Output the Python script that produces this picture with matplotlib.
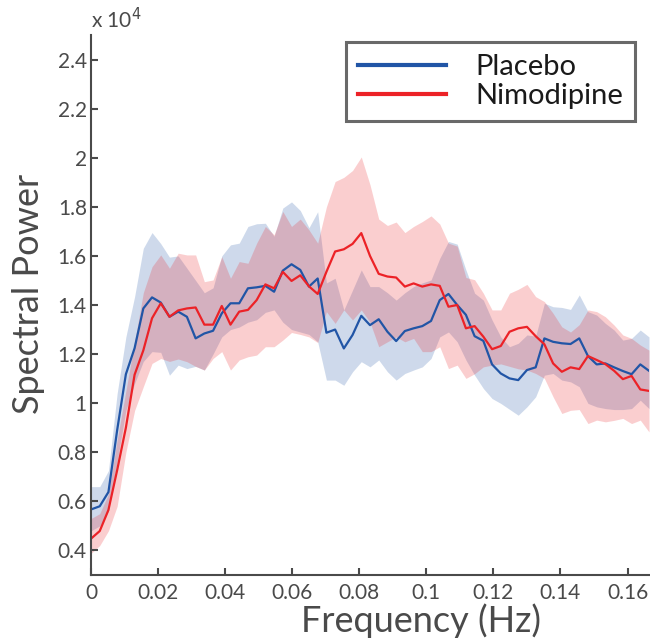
import numpy as np
import matplotlib
matplotlib.use("Agg")
import matplotlib.pyplot as plt
from matplotlib.ticker import FuncFormatter

plt.rcParams['font.family'] = ['Lato', 'DejaVu Sans']

# frequency bins (Hz)
freq = np.round(np.arange(65) * 0.0026, 5)

# values in units of 1e4
placebo_mean = [0.567, 0.580, 0.638, 0.890, 1.118, 1.224, 1.386, 1.431, 1.410, 1.352,
                1.373, 1.352, 1.264, 1.284, 1.295, 1.366, 1.407, 1.407, 1.468, 1.472,
                1.478, 1.454, 1.540, 1.566, 1.543, 1.475, 1.508, 1.287, 1.300, 1.223,
                1.278, 1.356, 1.318, 1.342, 1.291, 1.253, 1.294, 1.305, 1.314, 1.335,
                1.420, 1.445, 1.400, 1.360, 1.273, 1.254, 1.158, 1.121, 1.101, 1.094,
                1.135, 1.146, 1.264, 1.250, 1.244, 1.241, 1.264, 1.192, 1.158, 1.162,
                1.146, 1.131, 1.118, 1.158, 1.132]
placebo_upper = [0.660, 0.660, 0.725, 1.040, 1.270, 1.434, 1.631, 1.695, 1.650, 1.595,
                 1.600, 1.550, 1.500, 1.450, 1.470, 1.600, 1.645, 1.652, 1.720, 1.731,
                 1.733, 1.680, 1.795, 1.820, 1.785, 1.715, 1.780, 1.490, 1.509, 1.380,
                 1.461, 1.543, 1.475, 1.475, 1.450, 1.420, 1.450, 1.475, 1.490, 1.502,
                 1.590, 1.659, 1.648, 1.543, 1.448, 1.420, 1.339, 1.270, 1.230, 1.244,
                 1.278, 1.273, 1.407, 1.393, 1.390, 1.382, 1.441, 1.373, 1.359, 1.325,
                 1.298, 1.257, 1.264, 1.298, 1.270]
placebo_lower = [0.480, 0.500, 0.560, 0.760, 0.970, 1.080, 1.170, 1.210, 1.207, 1.114,
                 1.155, 1.141, 1.150, 1.135, 1.200, 1.270, 1.300, 1.310, 1.330, 1.340,
                 1.370, 1.380, 1.330, 1.300, 1.290, 1.280, 1.250, 1.094, 1.094, 1.073,
                 1.128, 1.169, 1.148, 1.176, 1.128, 1.094, 1.121, 1.135, 1.148, 1.182,
                 1.270, 1.290, 1.250, 1.176, 1.114, 1.060, 1.019, 0.999, 0.975, 0.951,
                 0.985, 1.026, 1.114, 1.121, 1.094, 1.087, 1.067, 0.999, 0.985, 0.978,
                 0.974, 0.974, 0.978, 1.012, 0.978]

nimodipine_mean = [0.448, 0.479, 0.565, 0.727, 0.900, 1.116, 1.215, 1.346, 1.407, 1.352,
                   1.378, 1.386, 1.390, 1.320, 1.320, 1.396, 1.320, 1.373, 1.380, 1.420,
                   1.484, 1.468, 1.535, 1.498, 1.521, 1.476, 1.445, 1.535, 1.618, 1.627,
                   1.649, 1.693, 1.600, 1.527, 1.516, 1.512, 1.475, 1.488, 1.475, 1.484,
                   1.478, 1.393, 1.400, 1.305, 1.314, 1.271, 1.220, 1.233, 1.291, 1.305,
                   1.311, 1.273, 1.240, 1.162, 1.128, 1.146, 1.139, 1.192, 1.176, 1.159,
                   1.132, 1.098, 1.111, 1.056, 1.050]
nimodipine_upper = [0.530, 0.550, 0.630, 0.850, 1.050, 1.250, 1.450, 1.556, 1.604, 1.550,
                    1.611, 1.604, 1.604, 1.495, 1.502, 1.597, 1.509, 1.577, 1.570, 1.652,
                    1.720, 1.686, 1.781, 1.720, 1.750, 1.706, 1.652, 1.800, 1.903, 1.920,
                    1.948, 2.003, 1.890, 1.750, 1.724, 1.738, 1.695, 1.720, 1.740, 1.763,
                    1.730, 1.652, 1.640, 1.512, 1.503, 1.448, 1.380, 1.380, 1.448, 1.464,
                    1.484, 1.434, 1.414, 1.366, 1.311, 1.290, 1.320, 1.380, 1.373, 1.352,
                    1.318, 1.278, 1.264, 1.237, 1.216]
nimodipine_lower = [0.388, 0.420, 0.480, 0.580, 0.800, 0.970, 1.067, 1.162, 1.182, 1.170,
                    1.180, 1.169, 1.150, 1.135, 1.182, 1.210, 1.135, 1.176, 1.189, 1.196,
                    1.230, 1.230, 1.257, 1.288, 1.280, 1.270, 1.247, 1.373, 1.325, 1.380,
                    1.339, 1.380, 1.330, 1.230, 1.250, 1.270, 1.250, 1.264, 1.210, 1.210,
                    1.230, 1.141, 1.155, 1.101, 1.120, 1.148, 1.155, 1.160, 1.150, 1.140,
                    1.135, 1.121, 1.101, 1.026, 0.958, 0.971, 0.974, 0.917, 0.931, 0.924,
                    0.930, 0.938, 0.917, 0.931, 0.883]

labels = ['Placebo', 'Nimodipine']
xticks = [0, 0.02, 0.04, 0.06, 0.08, 0.1, 0.12, 0.14, 0.16]
yticks = [0.4, 0.6, 0.8, 1.0, 1.2, 1.4, 1.6, 1.8, 2.0, 2.2, 2.4]

blue = '#2155a6'
red = '#ec2227'
grey = '#4a4a4a'

fig = plt.figure(figsize=(6.5, 6.41), dpi=100)
ax = fig.add_axes([91/650, 1 - 575/641, 558/650, 540/641])

ax.fill_between(freq, placebo_lower, placebo_upper, color=blue, alpha=0.22, lw=0)
ax.plot(freq, placebo_mean, color=blue, lw=1.6, label=labels[0])
ax.fill_between(freq, nimodipine_lower, nimodipine_upper, color=red, alpha=0.22, lw=0)
ax.plot(freq, nimodipine_mean, color=red, lw=1.6, label=labels[1])

ax.set_xlim(0, freq[-1])
ax.set_ylim(0.3, 2.5)
ax.set_xticks(xticks)
ax.set_yticks(yticks)
fmt = FuncFormatter(lambda v, p: '%g' % round(v, 4))
ax.xaxis.set_major_formatter(fmt)
ax.yaxis.set_major_formatter(fmt)

for s in ['top', 'right']:
    ax.spines[s].set_visible(False)
for s in ['left', 'bottom']:
    ax.spines[s].set_color(grey)
    ax.spines[s].set_linewidth(1.5)
ax.tick_params(direction='in', length=5, width=1.5, color=grey, labelcolor=grey,
               labelsize=15)
ax.tick_params(axis='y', pad=3)
ax.tick_params(axis='x', pad=6)

ax.set_xlabel('Frequency (Hz)', fontsize=26, color=grey)
ax.xaxis.set_label_coords(0.591, -0.053, transform=ax.transAxes)
ax.xaxis.label.set_va('top')
ax.set_ylabel('Spectral Power', fontsize=26, color=grey)
ax.yaxis.set_label_coords(-0.082, 0.52, transform=ax.transAxes)

ax.text(0, 1.005, 'x 10$^4$', transform=ax.transAxes, fontsize=15, color=grey,
        ha='left', va='bottom')

leg = ax.legend(loc='upper right', bbox_to_anchor=(0.975, 0.987), borderaxespad=0,
                frameon=True, fancybox=False, handlelength=3.0,
                handletextpad=1.0, borderpad=0.42, labelspacing=0.1,
                prop={'size': 21})
leg.get_frame().set_edgecolor('#444444')
leg.get_frame().set_linewidth(2.2)
for l in leg.get_lines():
    l.set_linewidth(3)
for t in leg.get_texts():
    t.set_color('#1a1a1a')

fig.savefig('out.png', dpi=100)
